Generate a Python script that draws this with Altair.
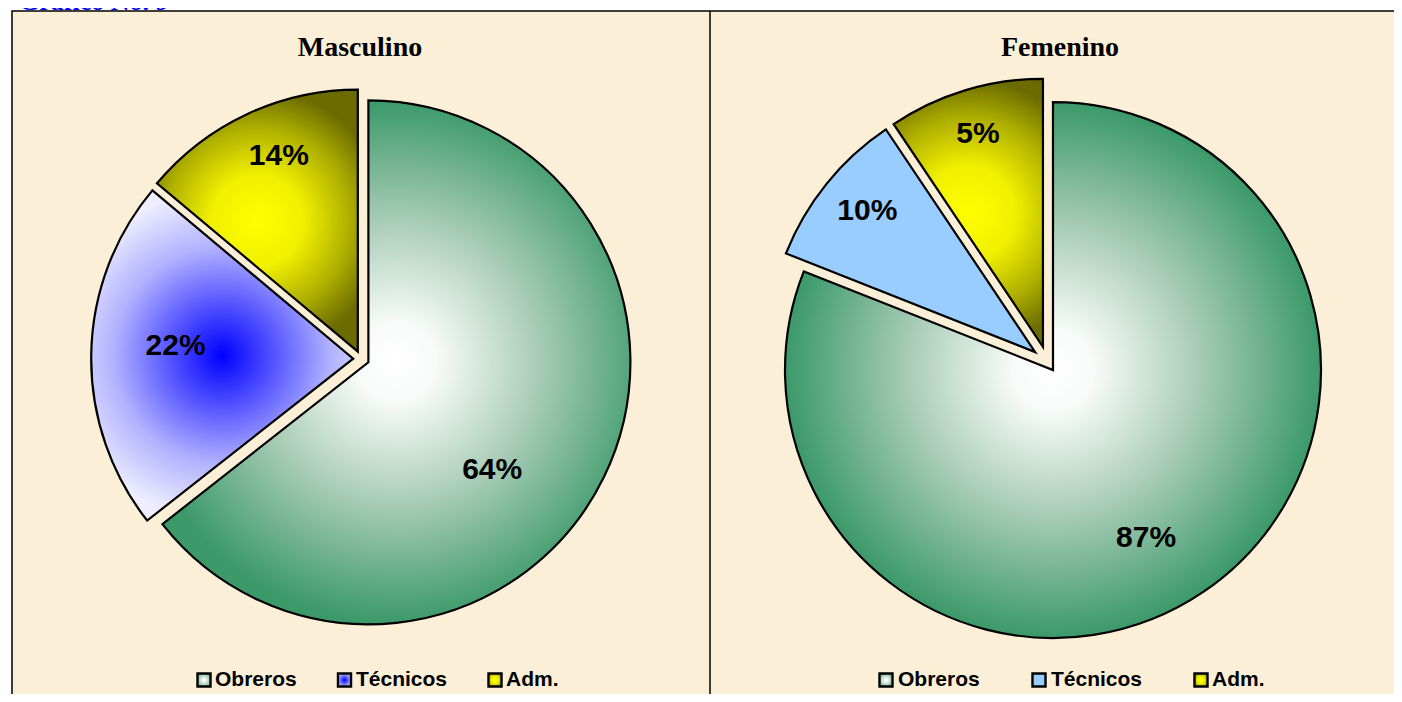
import math
import altair as alt
import pandas as pd

# ---------------- data ----------------
categories = ["Obreros", "Técnicos", "Adm."]
panels = ["Masculino", "Femenino"]
masc_values = [64.4, 21.7, 13.9]
masc_labels = ["64%", "22%", "14%"]
fem_values = [81.0, 9.6, 9.4]
fem_labels = ["87%", "10%", "5%"]
figure_title = "Gráfico No. 9"

# ---------------- style / layout ----------------
W, H = 1386, 686
BG = "#fcefd8"
STYLE = {
    "Masculino": dict(cx=353.2, cy=350.8, r=262, explode=[8, 8, 8],
                      label_r=[164, 178, 211], label_deg=[131, 274, 338],
                      title_x=352, sq_x=[196, 336.5, 487], tx_x=[207, 348, 498]),
    "Femenino": dict(cx=1039.6, cy=354.1, r=268, explode=[9.6, 16, 16],
                     label_r=[192, 219, 222], label_deg=[151, 310, 343],
                     title_x=1052, sq_x=[878, 1031, 1193], tx_x=[890, 1043, 1204]),
}
TITLE_Y = 40
LEGEND_Y = 672


def radial(stops, r2=0.5):
    return {"gradient": "radial", "x1": 0.5, "y1": 0.5, "r1": 0,
            "x2": 0.5, "y2": 0.5, "r2": r2,
            "stops": [{"offset": o, "color": c} for o, c in stops]}


GREEN_STOPS = [(0, "#ffffff"), (0.15, "#f8fbf9"), (0.55, "#a6cbb5"), (1, "#3b996a")]
BLUE_STOPS = [(0, "#0000ff"), (0.3, "#5050ff"), (0.65, "#b0b0ff"), (1, "#eeeeff")]
YELLOW_STOPS = [(0, "#ffff00"), (0.35, "#f0f000"), (0.7, "#b0b000"), (1, "#6b6b00")]
LIGHTBLUE = "#99ccff"
FILLS = {
    ("Masculino", "Obreros"): GREEN_STOPS, ("Masculino", "Técnicos"): BLUE_STOPS,
    ("Masculino", "Adm."): YELLOW_STOPS,
    ("Femenino", "Obreros"): GREEN_STOPS, ("Femenino", "Técnicos"): LIGHTBLUE,
    ("Femenino", "Adm."): YELLOW_STOPS,
}


def fill_for(spec, r2=0.5):
    return spec if isinstance(spec, str) else radial(spec, r2)


# ---------------- build tables ----------------
rows = []
leg = []
for panel, vals, labs in [("Masculino", masc_values, masc_labels), ("Femenino", fem_values, fem_labels)]:
    st = STYLE[panel]
    total = sum(vals)
    cum = 0.0
    for i, (cat, v, lab) in enumerate(zip(categories, vals, labs)):
        a0 = cum / total * 2 * math.pi
        cum += v
        a1 = cum / total * 2 * math.pi
        mid = (a0 + a1) / 2
        px = st["cx"] + st["explode"][i] * math.sin(mid)
        py = st["cy"] - st["explode"][i] * math.cos(mid)
        la = math.radians(st["label_deg"][i])
        rows.append(dict(key=f"{panel}|{cat}", panel=panel, cat=cat, value=v, label=lab,
                         start=a0, end=a1, px=px, py=py,
                         lx=px + st["label_r"][i] * math.sin(la),
                         ly=py - st["label_r"][i] * math.cos(la)))
        leg.append(dict(key=f"{panel}|{cat}", cat=cat, sx=st["sq_x"][i], tx=st["tx_x"][i], y=LEGEND_Y))
df = pd.DataFrame(rows)
legdf = pd.DataFrame(leg)
titles = pd.DataFrame({"panel": panels,
                       "x": [STYLE[p]["title_x"] for p in panels],
                       "y": [TITLE_Y, TITLE_Y]})

X = lambda f: alt.X(f, type="quantitative", scale=None, axis=None)
Y = lambda f: alt.Y(f, type="quantitative", scale=None, axis=None)

layers = []
# frame
first = alt.Chart(titles).transform_filter("datum.panel == 'Masculino'")
layers.append(first.mark_rect(fill=BG, stroke="black", strokeWidth=1.5).encode(
    x=alt.value(4), x2=alt.value(1400), y=alt.value(3), y2=alt.value(720)))
layers.append(first.mark_rule(color="black", strokeWidth=1.5).encode(
    x=alt.value(702), y=alt.value(3), y2=alt.value(720)))

# slices
for (panel, cat), spec in FILLS.items():
    k = f"{panel}|{cat}"
    layers.append(
        alt.Chart(df).transform_filter(alt.datum.key == k)
        .mark_arc(fill=fill_for(spec), stroke="black", strokeWidth=2.2,
                  outerRadius=STYLE[panel]["r"], strokeJoin="miter")
        .encode(x=X("px"), y=Y("py"),
                theta=alt.Theta("start:Q", scale=None),
                theta2="end:Q",
                tooltip=["panel:N", "cat:N", "label:N"])
    )

# slice labels
layers.append(alt.Chart(df).mark_text(font="Liberation Sans", fontWeight="bold", fontSize=30,
                                      color="black", align="center", baseline="middle")
              .encode(x=X("lx"), y=Y("ly"), text="label:N"))

# panel titles
layers.append(alt.Chart(titles).mark_text(font="Liberation Serif", fontWeight="bold", fontSize=28,
                                          color="black", align="center", baseline="middle")
              .encode(x=X("x"), y=Y("y"), text="panel:N"))

# figure caption (cut off at the top like the original)
layers.append(first.mark_text(font="Liberation Serif", fontWeight="bold", fontSize=26, color="#0000ff",
                              align="left", baseline="alphabetic", text=figure_title)
              .encode(x=alt.value(11), y=alt.value(2)))

# legends
for (panel, cat), spec in FILLS.items():
    k = f"{panel}|{cat}"
    layers.append(alt.Chart(legdf).transform_filter(alt.datum.key == k)
                  .mark_square(size=170, fill=fill_for(spec, 0.75), stroke="black",
                               strokeWidth=2.4, opacity=1)
                  .encode(x=X("sx"), y=Y("y")))
layers.append(alt.Chart(legdf).mark_text(font="Liberation Sans", fontWeight="bold", fontSize=21,
                                         color="black", align="left", baseline="middle")
              .encode(x=X("tx"), y=Y("y"), text="cat:N"))

chart = alt.layer(*layers).properties(
    width=W, height=H,
    autosize=alt.AutoSizeParams(type="none"),
    padding=0,
    background="white",
).configure_view(stroke=None)

chart.save("out.html", embed_options={"renderer": "svg", "actions": False})
